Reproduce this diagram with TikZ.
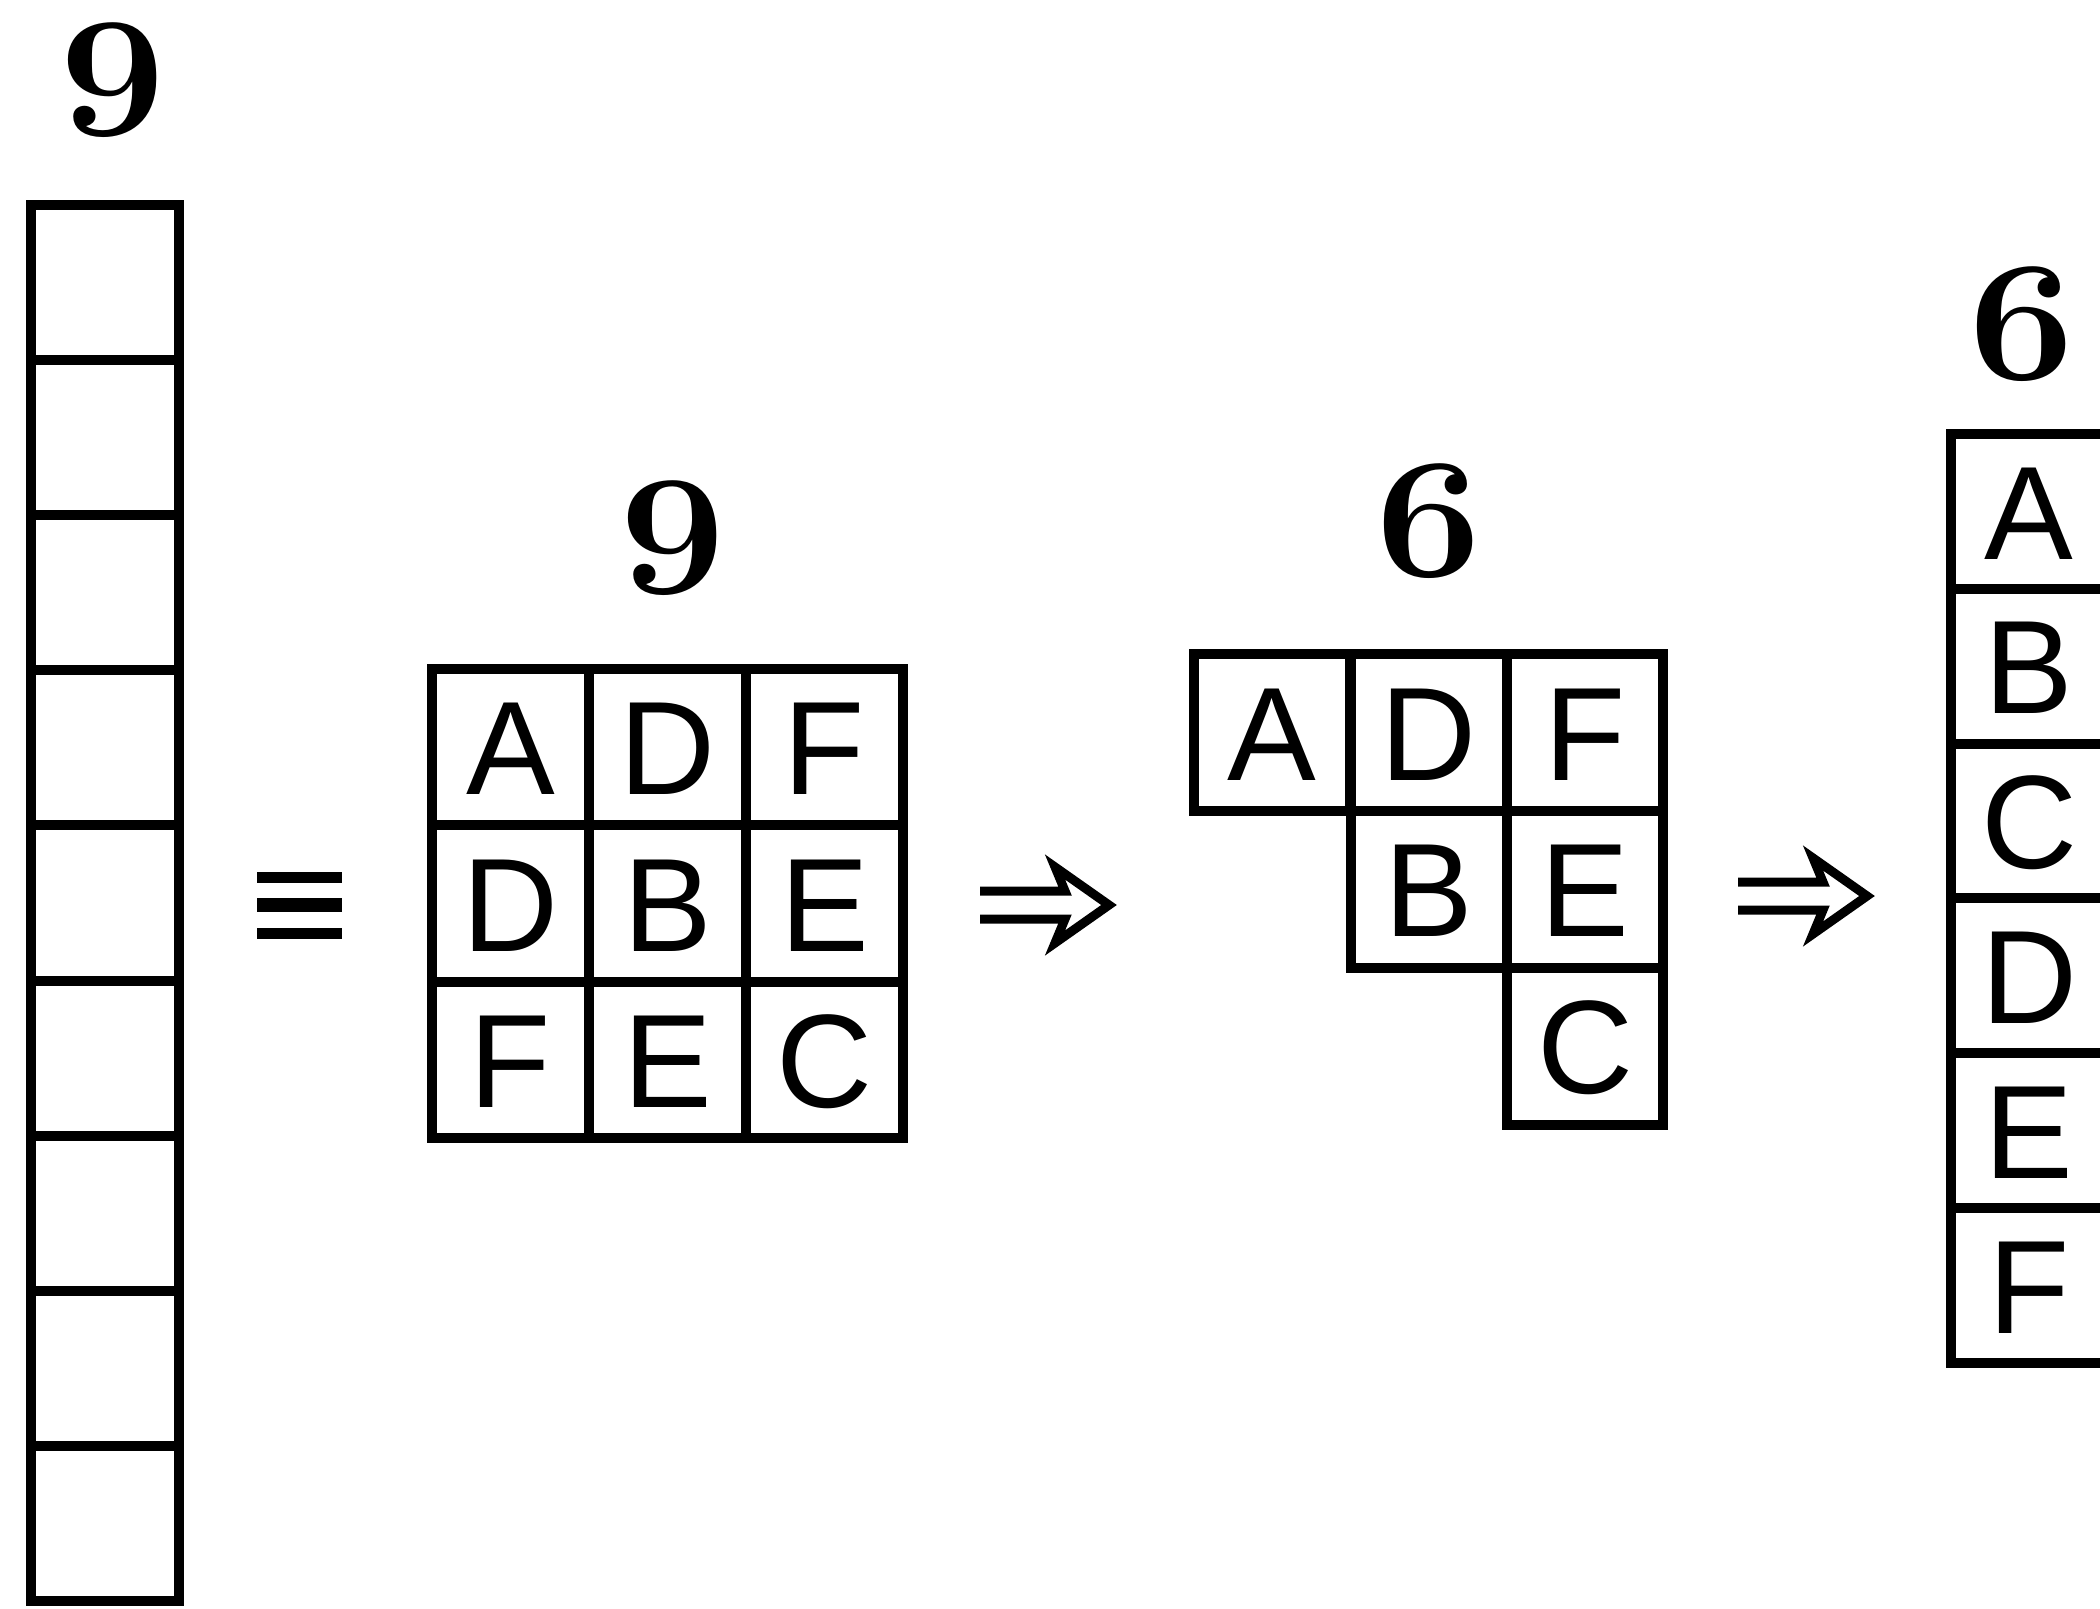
\documentclass[tikz,border=0pt]{standalone}
\usepackage{fontspec}
\usepackage{graphicx}
\newfontfamily\cellfont{Liberation Sans}
\tikzset{
  cell/.style={draw=black, line width=10pt, inner sep=0pt, outer sep=0pt,
    minimum width=157pt, minimum height=157pt,
    font=\cellfont\fontsize{133}{133}\selectfont, text height=95.2pt, text depth=0pt},
  numlabel/.style={inner sep=0pt, outer sep=0pt,
    font=\bfseries\fontsize{172}{172}\selectfont, text height=110.8pt, text depth=0pt},
  symline/.style={line width=#1, line cap=butt},
  dblarr/.pic={
    \draw[line width=9pt, line cap=butt, line join=miter, miter limit=10]
      (0,-14) -- (85,-14) -- (75,-38) -- (129,0) -- (75,38) -- (85,14) -- (0,14);
  }
}
\newcommand{\dig}[1]{\scalebox{1.1}[1]{#1}}
\begin{document}
\begin{tikzpicture}[x=1pt,y=-1pt]
\useasboundingbox (0,0) rectangle (2100,1608);
\fill[white] (0,0) rectangle (2100,1608);
\clip (0,0) rectangle (2100,1608);

% left column of nine empty cells
\foreach \i [evaluate=\i as \yy using 205+155.1*(\i-0.5)] in {1,...,9}{
  \node[cell, minimum width=148pt, minimum height=155.1pt] (c\i) at (105.3,\yy) {};
}
\node[numlabel] (lab9a) at (112.5,80.5) {\dig{9}};

% equivalence sign
\coordinate (eqv) at (299.5,905);
\draw[symline=11pt] (eqv) ++(-42.5,-28) -- ++(85,0);
\draw[symline=14pt] (eqv) ++(-42.5,0) -- ++(85,0);
\draw[symline=11pt] (eqv) ++(-42.5,28) -- ++(85,0);

% middle 3x3 grid
\tikzset{mcell/.style={cell, minimum width=157pt, minimum height=156.5pt}}
\node[mcell] (m11) at (510.5,747.2) {A};
\node[mcell] (m12) at (667.5,747.2) {D};
\node[mcell] (m13) at (824.5,747.2) {F};
\node[mcell] (m21) at (510.5,903.7) {D};
\node[mcell] (m22) at (667.5,903.7) {B};
\node[mcell] (m23) at (824.5,903.7) {E};
\node[mcell] (m31) at (510.5,1060) {F};
\node[mcell] (m32) at (667.5,1060) {E};
\node[mcell] (m33) at (824.5,1060) {C};
\node[numlabel] (lab9b) at (673,538.5) {\dig{9}};

% first arrow
\coordinate (arr1) at (980,905);
\pic at (arr1) {dblarr};

% triangular grid
\tikzset{tcell/.style={cell, minimum width=156.5pt, minimum height=157pt}}
\node[tcell] (t11) at (1272,732.5) {A};
\node[tcell] (t12) at (1429,732.5) {D};
\node[tcell] (t13) at (1585.2,732.5) {F};
\node[tcell] (t22) at (1429,889.2) {B};
\node[tcell] (t23) at (1585.2,889.2) {E};
\node[tcell] (t33) at (1585.2,1046) {C};
\node[numlabel] (lab6a) at (1429,521) {\dig{6}};

% second arrow
\coordinate (arr2) at (1738,896);
\pic at (arr2) {dblarr};

% right column
\foreach \l [count=\i, evaluate=\i as \yy using 434+154.8*(\i-0.5)] in {A,B,C,D,E,F}{
  \node[cell, minimum width=157pt, minimum height=154.8pt] (r\i) at (2029,\yy) {\l};
}
\node[numlabel] (lab6b) at (2021.6,324) {\dig{6}};
\end{tikzpicture}
\end{document}
